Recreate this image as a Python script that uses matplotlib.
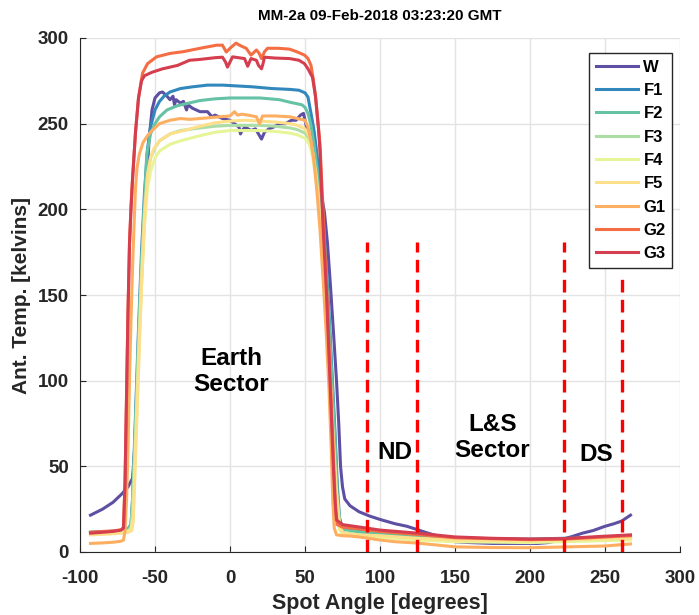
import numpy as np
import matplotlib
matplotlib.use("Agg")
import matplotlib.pyplot as plt

plt.rcParams['font.family'] = ['Liberation Sans', 'DejaVu Sans']
plt.rcParams['font.weight'] = 'bold'
plt.rcParams['axes.unicode_minus'] = False

# channel names and colours (Spectral, reversed)
channels = ['W', 'F1', 'F2', 'F3', 'F4', 'F5', 'G1', 'G2', 'G3']
colors = ['#5e4fa2', '#3288bd', '#66c2a5', '#abdda4', '#e6f598',
          '#fee08b', '#fdae61', '#f46d43', '#d53e4f']

# antenna temperature vs spot angle
w_ang = [-93, -85, -78, -72, -68, -65, -63.5, -62, -60, -58, -56, -54, -52, -50,
         -47, -45, -42, -40, -38, -37, -36, -33, -31, -29, -28, -25, -20, -15, -12,
         -10, -5, 0, 3, 6, 7, 8, 10, 14, 17, 19, 21, 23, 26, 29, 33, 37, 41, 44, 47,
         49, 51, 53, 55, 58, 61, 63, 65, 67, 69, 71, 72.5, 73.7, 75, 76.5, 80, 86,
         93, 100, 110, 118, 125, 132, 140, 145, 150, 160, 175, 190, 205, 212, 218,
         222, 228, 235, 242, 250, 256, 261, 267]
w_tmp = [21.5, 25, 29, 34, 38, 43, 60, 95, 140, 180, 210, 240, 258, 265,
         268, 268.5, 266, 264, 266, 261, 264, 262, 263, 258, 261, 259, 257, 257, 254,
         255, 253, 252, 250, 248, 244, 246, 248, 246, 247, 244, 241, 245, 247, 248, 250, 250, 252, 252, 255,
         256, 248, 242, 236, 222, 208, 198, 180, 155, 128, 100, 75, 50, 38, 31, 27, 23.5,
         21, 19, 16.5, 15, 13, 11, 9, 7.5, 6, 5.5, 5, 5, 5, 5.5, 6.5,
         7.5, 9, 11, 12.5, 15, 16.5, 18, 21.5]

f1_ang = [-93, -80, -72, -68, -66, -65, -63, -61, -59, -57, -55, -53, -50, -47, -44,
          -40, -33, -25, -15, -5, 5, 15, 28, 40, 46, 50, 52, 54, 56, 58, 60, 62, 64,
          66, 68, 70, 71.5, 73, 75, 80, 86, 100, 125, 150, 200, 222, 267]
f1_tmp = [11.5, 12, 12.5, 13.5, 16, 30, 80, 130, 175, 210, 235, 248, 258, 263, 266,
          268.5, 270.5, 271.5, 272.5, 272.5, 272, 271.5, 270.5, 270, 269.5, 268, 265.5, 256, 246, 232, 215, 195, 170,
          140, 105, 70, 40, 20, 14, 13, 12, 11, 9.5, 8, 7.5, 8, 9]

f2_ang = [-93, -80, -72, -68, -66, -65, -63, -61, -59, -57, -55.5, -53, -50, -47, -42,
          -35, -20, -10, 0, 10, 20, 33, 40, 48, 50, 52, 54, 56, 58, 60, 62, 64, 66,
          68, 70, 71.5, 73, 75, 80, 86, 100, 125, 150, 200, 222, 267]
f2_tmp = [11.5, 12, 12.5, 13.5, 16, 30, 75, 125, 168, 205, 232, 244, 250, 254, 258,
          260.5, 263.5, 264.5, 265, 265, 265, 264, 262.5, 261, 259.5, 256, 249, 238, 224, 208, 188, 165, 135,
          100, 65, 35, 18, 13.5, 12.5, 11.7, 10.5, 9, 7.5, 7, 7.5, 8.5]

f3_ang = [-93, -80, -72, -68, -66, -65, -63, -61, -59, -57, -55, -53, -50, -47, -40,
          -33, -20, -10, 0, 10, 20, 30, 40, 45, 50, 53, 55, 57, 59, 61, 63, 65, 67,
          69, 71, 73, 75, 86, 100, 125, 150, 200, 222, 267]
f3_tmp = [11, 11.5, 12, 12.5, 14, 25, 70, 120, 165, 200, 220, 230, 236, 240, 244,
          246, 247.5, 248.5, 249, 249, 249, 248.5, 247.5, 246.5, 244.5, 241, 234, 223, 208, 188, 163, 133, 98,
          58, 28, 14, 11.5, 10, 9, 7.5, 6.5, 6, 6.5, 7.5]

f4_ang = [-93, -80, -72, -68, -66, -64.5, -63, -61, -59, -57, -55, -53, -50, -47, -40,
          -33, -20, -10, 0, 10, 20, 30, 40, 45, 50, 53, 55, 57, 59, 61, 63, 65, 67,
          69, 71, 73, 75, 86, 100, 125, 150, 200, 222, 267]
f4_tmp = [10.5, 11, 11.5, 12, 13, 20, 60, 110, 155, 190, 212, 222, 230, 234, 238,
          240, 243, 245, 246, 246, 246, 245.5, 244.5, 243.5, 241.5, 238, 231, 220, 205, 185, 160, 130, 95,
          55, 25, 13, 10.5, 9.5, 8.5, 7, 6, 5.5, 6, 7]

f5_ang = [-93, -80, -72, -68, -65.5, -64.5, -63, -61, -59, -57, -55, -53, -51, -47, -40,
          -33, -20, -10, 0, 10, 20, 30, 40, 45, 50, 53, 55, 57, 59, 61, 63, 65, 67,
          69, 71, 73, 75, 86, 100, 125, 150, 200, 222, 267]
f5_tmp = [10, 10.5, 11, 11.5, 12.5, 18, 55, 105, 155, 195, 220, 230, 235, 240, 244,
          245.5, 248.5, 250.5, 251.5, 252, 251.5, 251, 250, 249, 247, 242.5, 234, 222, 205, 185, 160, 130, 100,
          65, 35, 17, 11, 10, 9.5, 8, 7, 6.5, 7, 8]

g1_ang = [-93, -85, -78, -73, -71, -70, -69, -68, -67, -66, -65, -64, -63, -62, -60.5,
          -58, -55, -52, -47, -40, -33, -27, -20, -7, 0, 3, 5, 8, 12, 17.6, 19.7, 21.7,
          30, 40, 45, 50, 52, 54, 56, 58, 60, 62, 64, 66, 67.5, 68.5, 69.5, 71, 75,
          80, 86, 100, 110, 125, 150, 175, 200, 225, 250, 267]
g1_tmp = [5, 5.3, 5.7, 6.2, 7, 12, 30, 60, 100, 135, 165, 190, 212, 224, 232,
          239, 243, 246, 250, 252, 253, 252.5, 253, 254, 254.5, 257, 255, 255.5, 255, 254, 250, 254.5,
          254.5, 254, 253, 252, 248, 240, 228, 210, 188, 160, 130, 95, 60, 30, 14, 10, 9.5,
          9.3, 8.8, 7, 6, 5.2, 3, 2.6, 2.5, 3, 3.5, 4.7]

g2_ang = [-93, -85, -78, -72.5, -71, -70, -69, -68, -67, -66, -65, -63, -61, -58.3,
          -55, -49, -40, -31.3, -20, -9, -5, -2.5, 0, 4, 7, 10.8, 14, 17.6, 19.5, 21,
          23, 25, 32, 39.7, 45, 49.7, 52, 54, 55.5, 57, 58.5, 60, 62, 64.5, 67, 69.2,
          70.5, 71.5, 75, 86, 100, 125, 150, 200, 222, 267]
g2_tmp = [11.5, 12, 12.3, 13, 14.5, 40, 90, 140, 180, 202, 218, 245, 265, 279.5,
          285, 289, 291, 292, 294, 295.8, 295.8, 291.8, 294, 297, 295.5, 294, 290, 293, 291, 288,
          292, 294, 294, 293.5, 291.8, 290, 288, 284, 276, 266, 252, 238, 200, 152, 100, 50,
          25, 16, 14.5, 13.5, 12, 10.2, 8.3, 7.2, 7.5, 9.5]

g3_ang = [-93, -85, -78, -72.5, -71, -70, -69, -68, -67, -66, -65, -63, -61, -59, -57,
          -52, -45, -35, -27, -20, -10, -5, -3, -1.7, 0, 1.7, 9.7, 11.8, 13, 14, 17.6,
          19, 21, 22, 23, 30, 39.7, 46, 49.7, 52, 55, 57, 59, 60, 62, 64.4, 66.7, 68.9,
          70, 71, 75, 86, 100, 125, 150, 175, 200, 222, 245, 267]
g3_tmp = [11, 11.5, 12, 12.8, 14, 40, 90, 140, 180, 200, 217, 245, 265, 275, 278,
          280, 282, 284, 287, 287.5, 288.5, 288.8, 286, 283, 286, 289, 288, 283.5, 286, 288, 287,
          284, 282, 285, 288.8, 288.3, 288, 287, 285, 282, 277, 266, 247, 234, 190, 150, 99, 50,
          30, 18.7, 16, 14.6, 12.8, 11, 8.8, 8, 7.6, 7.8, 9, 10]

angles = [w_ang, f1_ang, f2_ang, f3_ang, f4_ang, f5_ang, g1_ang, g2_ang, g3_ang]
temps = [w_tmp, f1_tmp, f2_tmp, f3_tmp, f4_tmp, f5_tmp, g1_tmp, g2_tmp, g3_tmp]

# sector boundaries (dashed red) and their heights
bound_x = [91.5, 124.7, 222.7, 261.3]
bound_top = [181, 181, 181, 161]

fig = plt.figure(figsize=(6.99, 6.15), dpi=100)
ax = fig.add_axes([80/699, 63/615, 600/699, 514/615])

for a, t, c, n in zip(angles, temps, colors, channels):
    ax.plot(a, t, color=c, lw=2.2, label=n, solid_joinstyle='round')

for bx, bt in zip(bound_x, bound_top):
    ax.plot([bx, bx], [0, bt], color='#ff0000', lw=2.4, linestyle=(0, (3.8, 2.2)))

txt = dict(ha='center', va='center', fontsize=17.5, fontweight='bold', linespacing=1.15)
ax.text(1, 105.5, 'Earth\nSector', **txt)
ax.text(110, 58, 'ND', **txt)
ax.text(175, 67, 'L&S\nSector', **txt)
ax.text(244, 57, 'DS', **txt)

ax.set_xlim(-100, 300)
ax.set_ylim(0, 300)
ax.set_xticks(np.arange(-100, 301, 50))
ax.set_yticks(np.arange(0, 301, 50))
ax.grid(True, color='#e3e3e3', lw=1)
ax.set_axisbelow(True)
for s in ['top', 'right']:
    ax.spines[s].set_visible(False)
for s in ['left', 'bottom']:
    ax.spines[s].set_color('#262626')
ax.tick_params(direction='in', length=4, color='#262626', labelsize=13.5)
ax.tick_params(axis='x', pad=13)
ax.tick_params(axis='y', pad=8)
for lab in ax.get_xticklabels() + ax.get_yticklabels():
    lab.set_fontweight('bold')
    lab.set_color('#262626')

ax.set_xlabel('Spot Angle [degrees]', fontsize=15.5, fontweight='bold', color='#262626', labelpad=4)
ax.set_ylabel('Ant. Temp. [kelvins]', fontsize=15, fontweight='bold', color='#262626', labelpad=5)
ax.set_title('MM-2a 09-Feb-2018 03:23:20 GMT', fontsize=11, fontweight='bold', pad=13)

leg = ax.legend(loc='upper right', bbox_to_anchor=(0.987, 0.971), borderaxespad=0,
                fancybox=False, framealpha=1, edgecolor='#262626',
                prop={'weight': 'bold', 'size': 12}, handlelength=2.5,
                handletextpad=0.35, labelspacing=0.5, borderpad=0.4)
leg.get_frame().set_linewidth(1.0)

fig.savefig('out.png', dpi=100)
